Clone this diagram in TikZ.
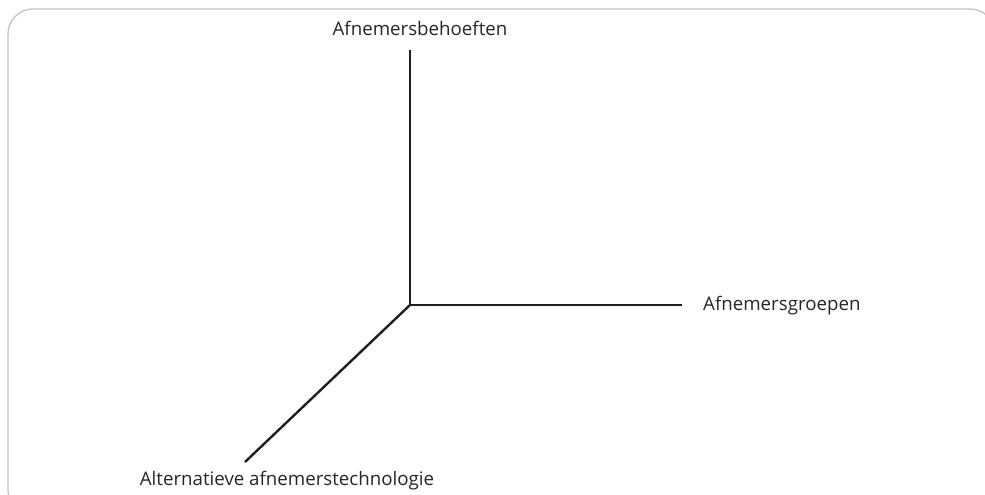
\documentclass[tikz,border=0pt]{standalone}
\usepackage{fontspec}
\setmainfont{Open Sans}
\begin{document}
\begin{tikzpicture}[x=1pt,y=1pt,
  axis/.style={line width=2.4pt, color=black!88},
  lbl/.style={font=\fontsize{18.7}{22}\selectfont, text=black!85, inner sep=0pt}]
\useasboundingbox (0,0) rectangle (985,495);
% rounded frame, partly running past the right and bottom edges
\draw[color=black!24, line width=1.3pt, rounded corners=25pt] (8,-20) rectangle (995,486);
% axes from a common origin
\coordinate (o) at (410,190);
\coordinate (top) at (410,445);
\coordinate (right) at (682,190);
\coordinate (diag) at (245,33);
\draw[axis] (top) -- (o) -- (right);
\draw[axis] (o) -- (diag);
% axis labels
\node[lbl, anchor=base] (lbehoeften) at (420,459) {Afnemersbehoeften};
\node[lbl, anchor=base west] (lgroepen) at (703,184) {Afnemersgroepen};
\node[lbl, anchor=base] (ltech) at (287,9) {Alternatieve afnemerstechnologie};
\end{tikzpicture}
\end{document}
